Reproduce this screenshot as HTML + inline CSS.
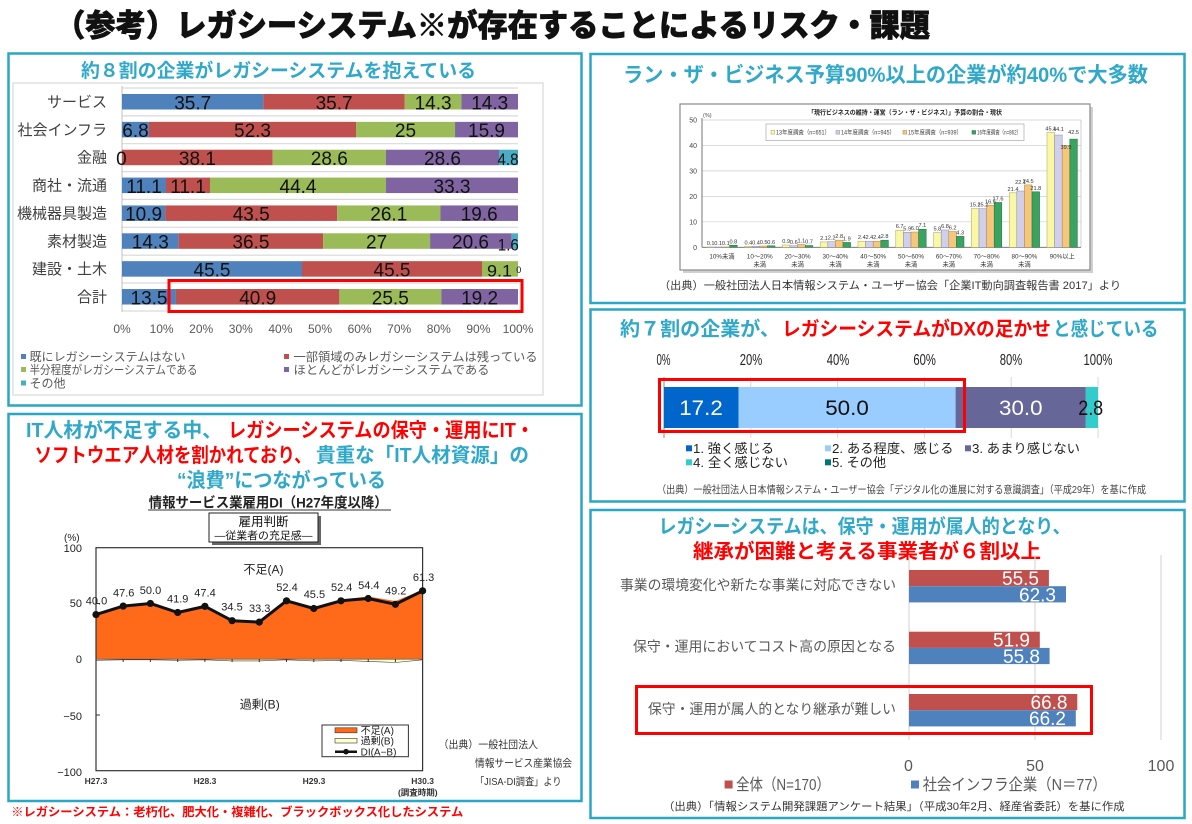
<!DOCTYPE html>
<html><head><meta charset="utf-8"><style>
html,body{margin:0;padding:0;background:#fff;}
svg{display:block;}
text{font-family:"Liberation Sans","Noto Sans CJK JP",sans-serif;}
</style></head><body>
<svg width="1192" height="824" viewBox="0 0 1192 824" xmlns="http://www.w3.org/2000/svg">
<rect width="1192" height="824" fill="#fff"/>
<text x="55" y="36.5" font-size="31" font-weight="900" fill="#111" stroke="#111" stroke-width="0.7" textLength="875" lengthAdjust="spacingAndGlyphs">（参考）レガシーシステム※が存在することによるリスク・課題</text>

<g fill="none" stroke="#2AA6C6" stroke-width="2.5">
<rect x="8.5" y="53.5" width="573" height="352"/>
<rect x="8.5" y="414" width="573" height="387"/>
<rect x="590.5" y="54" width="594" height="249"/>
<rect x="590.5" y="309.5" width="594" height="192"/>
<rect x="590.5" y="510" width="594" height="308"/>
</g>

<!-- ===== Panel 1 ===== -->
<text x="278.5" y="77" text-anchor="middle" font-size="19" font-weight="700" fill="#2FA8C9" textLength="395" lengthAdjust="spacingAndGlyphs">約８割の企業がレガシーシステムを抱えている</text>
<rect x="13" y="83" width="530" height="312" fill="none" stroke="#D9D9D9" stroke-width="1.2"/>
<g stroke="#D9D9D9" stroke-width="1.2">
<line x1="122" y1="88" x2="518" y2="88"/>
<line x1="122" y1="115.9" x2="518" y2="115.9"/>
<line x1="122" y1="143.7" x2="518" y2="143.7"/>
<line x1="122" y1="171.6" x2="518" y2="171.6"/>
<line x1="122" y1="199.4" x2="518" y2="199.4"/>
<line x1="122" y1="227.3" x2="518" y2="227.3"/>
<line x1="122" y1="255.2" x2="518" y2="255.2"/>
<line x1="122" y1="283" x2="518" y2="283"/>
<line x1="122" y1="311" x2="518" y2="311"/>
</g>
<line x1="122" y1="86" x2="122" y2="312" stroke="#BFBFBF" stroke-width="1"/>
<g>
<rect x="122" y="94" width="141.37" height="15.5" fill="#4F81BD"/>
<rect x="263.37" y="94" width="141.37" height="15.5" fill="#C0504D"/>
<rect x="404.74" y="94" width="56.63" height="15.5" fill="#9BBB59"/>
<rect x="461.37" y="94" width="56.63" height="15.5" fill="#8064A2"/>

<rect x="122" y="121.86" width="26.93" height="15.5" fill="#4F81BD"/>
<rect x="148.93" y="121.86" width="207.11" height="15.5" fill="#C0504D"/>
<rect x="356.04" y="121.86" width="99" height="15.5" fill="#9BBB59"/>
<rect x="455.04" y="121.86" width="62.96" height="15.5" fill="#8064A2"/>

<rect x="122" y="149.72" width="150.73" height="15.5" fill="#C0504D"/>
<rect x="272.73" y="149.72" width="113.15" height="15.5" fill="#9BBB59"/>
<rect x="385.88" y="149.72" width="113.15" height="15.5" fill="#8064A2"/>
<rect x="499.03" y="149.72" width="18.97" height="15.5" fill="#4BACC6"/>

<rect x="122" y="177.58" width="44" height="15.5" fill="#4F81BD"/>
<rect x="166" y="177.58" width="44" height="15.5" fill="#C0504D"/>
<rect x="210" y="177.58" width="176" height="15.5" fill="#9BBB59"/>
<rect x="386" y="177.58" width="132" height="15.5" fill="#8064A2"/>

<rect x="122" y="205.44" width="43.12" height="15.5" fill="#4F81BD"/>
<rect x="165.12" y="205.44" width="172.09" height="15.5" fill="#C0504D"/>
<rect x="337.21" y="205.44" width="103.25" height="15.5" fill="#9BBB59"/>
<rect x="440.46" y="205.44" width="77.54" height="15.5" fill="#8064A2"/>

<rect x="122" y="233.3" width="56.63" height="15.5" fill="#4F81BD"/>
<rect x="178.63" y="233.3" width="144.54" height="15.5" fill="#C0504D"/>
<rect x="323.17" y="233.3" width="106.92" height="15.5" fill="#9BBB59"/>
<rect x="430.09" y="233.3" width="81.58" height="15.5" fill="#8064A2"/>
<rect x="511.67" y="233.3" width="6.33" height="15.5" fill="#4BACC6"/>

<rect x="122" y="261.16" width="180" height="15.5" fill="#4F81BD"/>
<rect x="302" y="261.16" width="180" height="15.5" fill="#C0504D"/>
<rect x="482" y="261.16" width="36" height="15.5" fill="#9BBB59"/>

<rect x="122" y="289.02" width="53.94" height="15.5" fill="#4F81BD"/>
<rect x="175.94" y="289.02" width="163.43" height="15.5" fill="#C0504D"/>
<rect x="339.37" y="289.02" width="101.9" height="15.5" fill="#9BBB59"/>
<rect x="441.27" y="289.02" width="76.73" height="15.5" fill="#8064A2"/>
</g>
<g font-size="19" fill="#111" text-anchor="middle" font-family="Liberation Sans, sans-serif">
<text x="192.7" y="109.3">35.7</text><text x="334.1" y="109.3">35.7</text><text x="433.1" y="109.3">14.3</text><text x="489.7" y="109.3">14.3</text>
<text x="135.5" y="137.2">6.8</text><text x="252.5" y="137.2">52.3</text><text x="405.5" y="137.2">25</text><text x="486.5" y="137.2">15.9</text>
<text x="121.4" y="165">0</text><text x="197.4" y="165">38.1</text><text x="329.3" y="165">28.6</text><text x="442.5" y="165">28.6</text>
<text x="144" y="192.9">11.1</text><text x="188" y="192.9">11.1</text><text x="298" y="192.9">44.4</text><text x="452" y="192.9">33.3</text>
<text x="143.6" y="220.7">10.9</text><text x="251.2" y="220.7">43.5</text><text x="388.8" y="220.7">26.1</text><text x="479.2" y="220.7">19.6</text>
<text x="150.3" y="248.6">14.3</text><text x="250.9" y="248.6">36.5</text><text x="376.6" y="248.6">27</text><text x="470.5" y="248.6">20.6</text>
<text x="212" y="276.5">45.5</text><text x="392" y="276.5">45.5</text>
<text x="149" y="304.3">13.5</text><text x="257.7" y="304.3">40.9</text><text x="390.3" y="304.3">25.5</text><text x="479.6" y="304.3">19.2</text>
</g>
<g font-size="17" fill="#111" text-anchor="middle" font-family="Liberation Sans, sans-serif">
<text x="508" y="165" textLength="21" lengthAdjust="spacingAndGlyphs">4.8</text>
<text x="508.3" y="250.5" textLength="21" lengthAdjust="spacingAndGlyphs">1.6</text>
<text x="499.5" y="276.5" textLength="25" lengthAdjust="spacingAndGlyphs">9.1</text>
</g>
<text x="518.8" y="273" font-size="9" text-anchor="middle" fill="#111">0</text>
<g font-size="15" fill="#404040" text-anchor="end">
<text x="107" y="107">サービス</text>
<text x="107" y="134.9">社会インフラ</text>
<text x="107" y="162.7">金融</text>
<text x="107" y="190.6">商社・流通</text>
<text x="107" y="218.4">機械器具製造</text>
<text x="107" y="246.3">素材製造</text>
<text x="107" y="274.2">建設・土木</text>
<text x="107" y="302">合計</text>
</g>
<g font-size="12" fill="#595959" text-anchor="middle">
<text x="122" y="333">0%</text><text x="161.6" y="333">10%</text><text x="201.2" y="333">20%</text><text x="240.8" y="333">30%</text><text x="280.4" y="333">40%</text><text x="320" y="333">50%</text><text x="359.6" y="333">60%</text><text x="399.2" y="333">70%</text><text x="438.8" y="333">80%</text><text x="478.4" y="333">90%</text><text x="518" y="333">100%</text>
</g>
<rect x="21" y="354" width="5" height="5" fill="#4F81BD"/>
<rect x="21" y="367" width="5" height="5" fill="#9BBB59"/>
<rect x="21" y="380.5" width="5" height="5" fill="#4BACC6"/>
<rect x="284" y="354" width="5" height="5" fill="#C0504D"/>
<rect x="284" y="367" width="5" height="5" fill="#8064A2"/>
<g font-size="12" fill="#595959">
<text x="29.5" y="361" textLength="156" lengthAdjust="spacingAndGlyphs">既にレガシーシステムはない</text>
<text x="29.5" y="374" textLength="168" lengthAdjust="spacingAndGlyphs">半分程度がレガシーシステムである</text>
<text x="29.5" y="387.5">その他</text>
<text x="293.5" y="361" textLength="244" lengthAdjust="spacingAndGlyphs">一部領域のみレガシーシステムは残っている</text>
<text x="293.5" y="374" textLength="196" lengthAdjust="spacingAndGlyphs">ほとんどがレガシーシステムである</text>
</g>
<rect x="169" y="280.5" width="353" height="31" fill="none" stroke="#FF0000" stroke-width="3"/>

<!-- ===== Panel 2 ===== -->
<g font-size="20" font-weight="700">
<text x="26" y="437" fill="#2FA8C9" textLength="196" lengthAdjust="spacingAndGlyphs">IT人材が不足する中、</text>
<text x="228" y="437" fill="#FF0000" textLength="306" lengthAdjust="spacingAndGlyphs">レガシーシステムの保守・運用にIT・</text>
<text x="34.6" y="462" fill="#FF0000" textLength="277" lengthAdjust="spacingAndGlyphs">ソフトウエア人材を割かれており、</text>
<text x="316" y="462" fill="#2FA8C9" textLength="213" lengthAdjust="spacingAndGlyphs">貴重な「IT人材資源」の</text>
<text x="177" y="487" fill="#2FA8C9" textLength="209" lengthAdjust="spacingAndGlyphs">“浪費”につながっている</text>
</g>
<text x="148.7" y="507.5" font-size="14" font-weight="700" fill="#222" textLength="239" lengthAdjust="spacingAndGlyphs">情報サービス業雇用DI（H27年度以降）</text>
<line x1="148" y1="510" x2="391" y2="510" stroke="#333" stroke-width="1"/>
<rect x="212" y="516" width="109" height="29" fill="#666"/>
<rect x="209" y="513" width="109" height="29" fill="#fff" stroke="#222" stroke-width="1"/>
<text x="263.5" y="526" font-size="12.5" text-anchor="middle" fill="#111">雇用判断</text>
<text x="263.5" y="539" font-size="10.5" text-anchor="middle" fill="#111" textLength="98" lengthAdjust="spacingAndGlyphs">―従業者の充足感―</text>
<text x="64" y="541" font-size="10" fill="#222">(%)</text>
<g font-size="11" fill="#222" text-anchor="end">
<text x="82" y="552">100</text><text x="82" y="607">50</text><text x="82" y="663">0</text><text x="82" y="720">−50</text><text x="82" y="776">−100</text>
</g>
<polygon points="96,659.2 96,613.6 123.2,605.1 150.4,602.4 177.7,611.5 204.9,605.3 232.1,619.5 259.3,621 286.5,599.8 313.8,607.3 341,599.6 368.2,596.5 395.4,601 422.6,590 422.6,659.2" fill="#FF6A1A"/>
<polygon points="96,659.2 422.6,659.2 422.6,659.8 395.4,662.5 368.2,661.4 341,660.3 313.8,660.9 286.5,659.8 259.3,660.9 232.1,660.9 204.9,659.8 177.7,660.3 150.4,659.8 123.2,659.8 96,660.3" fill="#FFFFCC" stroke="#444" stroke-width="0.6"/>
<rect x="96" y="547.7" width="326.6" height="223" fill="none" stroke="#333" stroke-width="1.2"/>
<g stroke="#333" stroke-width="1">
<line x1="96" y1="603.5" x2="100" y2="603.5"/><line x1="96" y1="715" x2="100" y2="715"/>
<line x1="123.2" y1="659.2" x2="123.2" y2="662"/><line x1="150.4" y1="659.2" x2="150.4" y2="662"/><line x1="177.7" y1="659.2" x2="177.7" y2="662"/><line x1="204.9" y1="659.2" x2="204.9" y2="662"/><line x1="232.1" y1="659.2" x2="232.1" y2="662"/><line x1="259.3" y1="659.2" x2="259.3" y2="662"/><line x1="286.5" y1="659.2" x2="286.5" y2="662"/><line x1="313.8" y1="659.2" x2="313.8" y2="662"/><line x1="341" y1="659.2" x2="341" y2="662"/><line x1="368.2" y1="659.2" x2="368.2" y2="662"/><line x1="395.4" y1="659.2" x2="395.4" y2="662"/>
</g>
<polyline points="96,614.6 123.2,606.1 150.4,603.45 177.7,612.5 204.9,606.35 232.1,620.7 259.3,622.1 286.5,600.8 313.8,608.5 341,600.8 368.2,598.5 395.4,604.3 422.6,590.85" fill="none" stroke="#111" stroke-width="3" stroke-linejoin="round"/>
<g fill="#111">
<circle cx="96" cy="614.6" r="3.6"/><circle cx="123.2" cy="606.1" r="3.6"/><circle cx="150.4" cy="603.45" r="3.6"/><circle cx="177.7" cy="612.5" r="3.6"/><circle cx="204.9" cy="606.35" r="3.6"/><circle cx="232.1" cy="620.7" r="3.6"/><circle cx="259.3" cy="622.1" r="3.6"/><circle cx="286.5" cy="600.8" r="3.6"/><circle cx="313.8" cy="608.5" r="3.6"/><circle cx="341" cy="600.8" r="3.6"/><circle cx="368.2" cy="598.5" r="3.6"/><circle cx="395.4" cy="604.3" r="3.6"/><circle cx="422.6" cy="590.85" r="3.6"/>
</g>
<g font-size="11" fill="#222" text-anchor="middle">
<text x="96.5" y="604.6">40.0</text><text x="123.7" y="596.6">47.6</text><text x="150.5" y="594">50.0</text><text x="177.7" y="602.3">41.9</text><text x="205" y="596.6">47.4</text><text x="232" y="610.6">34.5</text><text x="259.7" y="612.2">33.3</text><text x="287" y="591.2">52.4</text><text x="314.4" y="598.2">45.5</text><text x="341.7" y="591.2">52.4</text><text x="368.8" y="589">54.4</text><text x="395.7" y="594.6">49.2</text><text x="423.6" y="581.2">61.3</text>
</g>
<text x="263.5" y="573.5" font-size="12" text-anchor="middle" fill="#222">不足(A)</text>
<text x="259.7" y="708.5" font-size="12" text-anchor="middle" fill="#222">過剰(B)</text>
<rect x="322" y="725" width="86.4" height="31.7" fill="#fff" stroke="#333" stroke-width="1"/>
<rect x="335" y="727.8" width="22" height="5" fill="#FF6A1A" stroke="#333" stroke-width="0.6"/>
<rect x="335" y="738.4" width="22" height="4.6" fill="#FFFFCC" stroke="#333" stroke-width="0.6"/>
<line x1="335" y1="751.7" x2="357" y2="751.7" stroke="#111" stroke-width="2.5"/>
<circle cx="346" cy="751.7" r="2.8" fill="#111"/>
<g font-size="10" fill="#222">
<text x="360.6" y="734">不足(A)</text><text x="360.6" y="744.5">過剰(B)</text><text x="360.6" y="755.5">DI(A−B)</text>
</g>
<g font-size="8.5" font-weight="700" fill="#333" text-anchor="middle">
<text x="96" y="784">H27.3</text><text x="205" y="784">H28.3</text><text x="314" y="784">H29.3</text><text x="422.6" y="784">H30.3</text>
<text x="417.8" y="795.5">(調査時期)</text>
</g>
<g font-size="10.5" fill="#333">
<text x="438.5" y="748" textLength="99.5" lengthAdjust="spacingAndGlyphs">（出典）一般社団法人</text>
<text x="475" y="766.5" textLength="97" lengthAdjust="spacingAndGlyphs">情報サービス産業協会</text>
<text x="475" y="785" textLength="86.5" lengthAdjust="spacingAndGlyphs">「JISA-DI調査」より</text>
</g>
<text x="11.3" y="816" font-size="12" font-weight="700" fill="#FF0000" textLength="452" lengthAdjust="spacingAndGlyphs">※レガシーシステム：老朽化、肥大化・複雑化、ブラックボックス化したシステム</text>

<!-- ===== Panel 3 ===== -->
<text x="623" y="82" font-size="21" font-weight="700" fill="#2FA8C9" textLength="525" lengthAdjust="spacingAndGlyphs">ラン・ザ・ビジネス予算90%以上の企業が約40%で大多数</text>
<rect x="683" y="107" width="410" height="166" fill="#d0d0d0"/>
<rect x="680" y="104" width="410" height="166" fill="#fff" stroke="#8a8a8a" stroke-width="1.2"/>
<text x="905" y="114.5" font-size="6.5" font-weight="700" fill="#222" text-anchor="middle" textLength="194" lengthAdjust="spacingAndGlyphs">「現行ビジネスの維持・運営（ラン・ザ・ビジネス）」予算の割合・現状</text>
<g stroke="#cfcfcf" stroke-width="0.7">
<line x1="702" y1="120" x2="1081" y2="120"/><line x1="702" y1="145.5" x2="1081" y2="145.5"/><line x1="702" y1="170.9" x2="1081" y2="170.9"/><line x1="702" y1="196.4" x2="1081" y2="196.4"/><line x1="702" y1="221.8" x2="1081" y2="221.8"/>
</g>
<line x1="1081" y1="120" x2="1081" y2="247.3" stroke="#bbb" stroke-width="0.7"/>
<line x1="702" y1="118" x2="702" y2="247.3" stroke="#666" stroke-width="0.9"/>
<line x1="702" y1="247.3" x2="1081" y2="247.3" stroke="#666" stroke-width="0.9"/>
<g font-size="7" fill="#444" text-anchor="end">
<text x="697" y="122.5">50</text><text x="697" y="148">40</text><text x="697" y="173.4">30</text><text x="697" y="198.9">20</text><text x="697" y="224.3">10</text><text x="697" y="249.8">0</text>
</g>
<text x="703" y="117" font-size="5.5" fill="#444">(%)</text>
<rect x="766" y="124" width="258" height="16.5" fill="#fff" stroke="#aaa" stroke-width="0.7"/>
<rect x="771" y="130.5" width="3.6" height="3.6" fill="#FAF7A5" stroke="#A8A060" stroke-width="0.5"/>
<rect x="836" y="130.5" width="3.6" height="3.6" fill="#D0D0EC" stroke="#8888B0" stroke-width="0.5"/>
<rect x="903" y="130.5" width="3.6" height="3.6" fill="#F6C77A" stroke="#B08040" stroke-width="0.5"/>
<rect x="972" y="130.5" width="3.6" height="3.6" fill="#3AA35F" stroke="#1E7040" stroke-width="0.5"/>
<g font-size="6" fill="#444">
<text x="776" y="134.5" textLength="54" lengthAdjust="spacingAndGlyphs">13年度調査（n=651）</text>
<text x="841" y="134.5" textLength="54" lengthAdjust="spacingAndGlyphs">14年度調査（n=945）</text>
<text x="908" y="134.5" textLength="54" lengthAdjust="spacingAndGlyphs">15年度調査（n=939）</text>
<text x="977" y="134.5" textLength="44" lengthAdjust="spacingAndGlyphs">16年度調査（n=862）</text>
</g>
<g stroke-width="0.5">
<g fill="#FAF7A5" stroke="#A8A060">
<rect x="706.8" y="247.05" width="7.6" height="0.25"/><rect x="744.6" y="246.28" width="7.6" height="1.02"/><rect x="782.4" y="245.01" width="7.6" height="2.29"/><rect x="820.2" y="241.95" width="7.6" height="5.35"/><rect x="858" y="241.19" width="7.6" height="6.11"/><rect x="895.8" y="230.24" width="7.6" height="17.06"/><rect x="933.6" y="232.53" width="7.6" height="14.77"/><rect x="971.4" y="208.6" width="7.6" height="38.7"/><rect x="1009.2" y="192.82" width="7.6" height="54.48"/><rect x="1047" y="132.48" width="7.6" height="114.82"/>
</g>
<g fill="#D0D0EC" stroke="#8888B0">
<rect x="714.4" y="247.05" width="7.6" height="0.25"/><rect x="752.2" y="246.28" width="7.6" height="1.02"/><rect x="790" y="245.77" width="7.6" height="1.53"/><rect x="827.8" y="241.7" width="7.6" height="5.6"/><rect x="865.6" y="241.19" width="7.6" height="6.11"/><rect x="903.4" y="232.28" width="7.6" height="15.02"/><rect x="941.2" y="229.99" width="7.6" height="17.31"/><rect x="979" y="208.6" width="7.6" height="38.7"/><rect x="1016.8" y="191.03" width="7.6" height="56.27"/><rect x="1054.6" y="135.02" width="7.6" height="112.28"/>
</g>
<g fill="#F6C77A" stroke="#B08040">
<rect x="722" y="247.05" width="7.6" height="0.25"/><rect x="759.8" y="246.03" width="7.6" height="1.27"/><rect x="797.6" y="244.5" width="7.6" height="2.8"/><rect x="835.4" y="240.17" width="7.6" height="7.13"/><rect x="873.2" y="241.19" width="7.6" height="6.11"/><rect x="911" y="232.02" width="7.6" height="15.28"/><rect x="948.8" y="231.51" width="7.6" height="15.79"/><rect x="986.6" y="205.29" width="7.6" height="42.01"/><rect x="1024.4" y="184.92" width="7.6" height="62.38"/><rect x="1062.2" y="145.71" width="7.6" height="101.59"/>
</g>
<g fill="#3AA35F" stroke="#1E7040">
<rect x="729.6" y="245.26" width="7.6" height="2.04"/><rect x="767.4" y="245.77" width="7.6" height="1.53"/><rect x="805.2" y="245.52" width="7.6" height="1.78"/><rect x="843" y="242.46" width="7.6" height="4.84"/><rect x="880.8" y="240.17" width="7.6" height="7.13"/><rect x="918.6" y="229.22" width="7.6" height="18.08"/><rect x="956.4" y="236.35" width="7.6" height="10.95"/><rect x="994.2" y="202.49" width="7.6" height="44.81"/><rect x="1032" y="191.8" width="7.6" height="55.5"/><rect x="1069.8" y="139.09" width="7.6" height="108.21"/>
</g>
</g>
<g font-size="5.6" fill="#333" text-anchor="middle">
<text x="710.6" y="245">0.1</text><text x="718.2" y="245">0.1</text><text x="725.8" y="245">0.1</text><text x="733.4" y="243.3">0.8</text>
<text x="748.4" y="244.3">0.4</text><text x="756" y="244.3">0.4</text><text x="763.6" y="244">0.5</text><text x="771.2" y="243.8">0.6</text>
<text x="786.2" y="243">0.9</text><text x="793.8" y="243.8">0.6</text><text x="801.4" y="242.5">1.1</text><text x="809" y="243.5">0.7</text>
<text x="824" y="240">2.1</text><text x="831.6" y="239.7">2.2</text><text x="839.2" y="238.2">2.8</text><text x="846.8" y="240.5">1.9</text>
<text x="861.8" y="239.2">2.4</text><text x="869.4" y="239.2">2.4</text><text x="877" y="239.2">2.4</text><text x="884.6" y="238.2">2.8</text>
<text x="899.6" y="228.2">6.7</text><text x="907.2" y="230.3">5.9</text><text x="914.8" y="230">6.0</text><text x="922.4" y="227.2">7.1</text>
<text x="937.4" y="230.5">5.8</text><text x="945" y="228">6.8</text><text x="952.6" y="229.5">6.2</text><text x="960.2" y="234.3">4.3</text>
<text x="975.2" y="206.6">15.2</text><text x="982.8" y="206.6">15.2</text><text x="990.4" y="203.3">16.5</text><text x="998" y="200.5">17.6</text>
<text x="1013" y="190.8">21.4</text><text x="1020.6" y="184">22.1</text><text x="1028.2" y="182.9">24.5</text><text x="1035.8" y="189.8">21.8</text>
<text x="1050.8" y="130.5">45.1</text><text x="1058.4" y="131">44.1</text><text x="1066" y="149">39.9</text><text x="1073.6" y="134">42.5</text>
</g>
<g font-size="6.3" fill="#333" text-anchor="middle">
<text x="722" y="258.5">10%未満</text><text x="759.8" y="258.5">10～20%</text><text x="797.6" y="258.5">20～30%</text><text x="835.4" y="258.5">30～40%</text><text x="873.2" y="258.5">40～50%</text><text x="911" y="258.5">50～60%</text><text x="948.8" y="258.5">60～70%</text><text x="986.6" y="258.5">70～80%</text><text x="1024.4" y="258.5">80～90%</text><text x="1062.2" y="258.5">90%以上</text>
<text x="759.8" y="266.5">未満</text><text x="797.6" y="266.5">未満</text><text x="835.4" y="266.5">未満</text><text x="873.2" y="266.5">未満</text><text x="911" y="266.5">未満</text><text x="948.8" y="266.5">未満</text><text x="986.6" y="266.5">未満</text><text x="1024.4" y="266.5">未満</text>
</g>
<text x="659" y="289" font-size="11" fill="#333" textLength="462" lengthAdjust="spacingAndGlyphs">（出典）一般社団法人日本情報システム・ユーザー協会「企業IT動向調査報告書 2017」より</text>

<!-- ===== Panel 4 ===== -->
<g font-size="19.5" font-weight="700">
<text x="620" y="335.5" fill="#2FA8C9" textLength="160" lengthAdjust="spacingAndGlyphs">約７割の企業が、</text>
<text x="782" y="335.5" fill="#FF0000" textLength="269" lengthAdjust="spacingAndGlyphs">レガシーシステムがDXの足かせ</text>
<text x="1053" y="335.5" fill="#2FA8C9" textLength="105.5" lengthAdjust="spacingAndGlyphs">と感じている</text>
</g>
<g font-size="16" fill="#222" text-anchor="middle">
<text x="663.5" y="365" textLength="14" lengthAdjust="spacingAndGlyphs">0%</text>
<text x="751" y="365" textLength="22.5" lengthAdjust="spacingAndGlyphs">20%</text>
<text x="838" y="365" textLength="22.5" lengthAdjust="spacingAndGlyphs">40%</text>
<text x="924.6" y="365" textLength="22.5" lengthAdjust="spacingAndGlyphs">60%</text>
<text x="1011" y="365" textLength="22.5" lengthAdjust="spacingAndGlyphs">80%</text>
<text x="1098" y="365" textLength="29" lengthAdjust="spacingAndGlyphs">100%</text>
</g>
<g stroke="#D9D9D9" stroke-width="1">
<line x1="750.8" y1="377" x2="750.8" y2="438"/><line x1="837.6" y1="377" x2="837.6" y2="438"/><line x1="924.4" y1="377" x2="924.4" y2="438"/><line x1="1011.2" y1="377" x2="1011.2" y2="438"/><line x1="1098" y1="377" x2="1098" y2="438"/>
</g>
<line x1="664" y1="377" x2="664" y2="438" stroke="#888" stroke-width="1"/>
<rect x="664" y="387" width="74.6" height="41" fill="#0066CC"/>
<rect x="738.6" y="387" width="217" height="41" fill="#99CCFF"/>
<rect x="955.6" y="387" width="130.2" height="41" fill="#666699"/>
<rect x="1085.8" y="387" width="12.2" height="41" fill="#33CCCC"/>
<g font-size="21" text-anchor="middle">
<text x="701" y="415" fill="#fff" textLength="43.5" lengthAdjust="spacingAndGlyphs">17.2</text>
<text x="847" y="415" fill="#111" textLength="43.5" lengthAdjust="spacingAndGlyphs">50.0</text>
<text x="1020.8" y="415" fill="#fff" textLength="43.5" lengthAdjust="spacingAndGlyphs">30.0</text>
<text x="1090.7" y="415" fill="#111" textLength="25" lengthAdjust="spacingAndGlyphs">2.8</text>
</g>
<rect x="659.5" y="379.5" width="305" height="52" fill="none" stroke="#FF0000" stroke-width="3"/>
<rect x="686" y="445.3" width="6" height="6" fill="#0066CC"/>
<rect x="825" y="445.3" width="6" height="6" fill="#99CCFF"/>
<rect x="965" y="445.3" width="6" height="6" fill="#666699"/>
<rect x="686" y="459.3" width="6" height="6" fill="#33CCCC"/>
<rect x="825" y="459.3" width="6" height="6" fill="#007777"/>
<g font-size="13" fill="#222">
<text x="693" y="453" textLength="81" lengthAdjust="spacingAndGlyphs">1. 強く感じる</text>
<text x="832" y="453" textLength="121.5" lengthAdjust="spacingAndGlyphs">2. ある程度、感じる</text>
<text x="972" y="453" textLength="108" lengthAdjust="spacingAndGlyphs">3. あまり感じない</text>
<text x="693" y="467" textLength="95" lengthAdjust="spacingAndGlyphs">4. 全く感じない</text>
<text x="832" y="467" textLength="54" lengthAdjust="spacingAndGlyphs">5. その他</text>
</g>
<text x="657" y="493" font-size="10.5" fill="#444" textLength="489" lengthAdjust="spacingAndGlyphs">（出典）一般社団法人日本情報システム・ユーザー協会「デジタル化の進展に対する意識調査」（平成29年）を基に作成</text>

<!-- ===== Panel 5 ===== -->
<text x="658.5" y="533" font-size="19.5" font-weight="700" fill="#2FA8C9" textLength="412" lengthAdjust="spacingAndGlyphs">レガシーシステムは、保守・運用が属人的となり、</text>
<text x="693" y="558" font-size="20" font-weight="700" fill="#FF0000" textLength="348" lengthAdjust="spacingAndGlyphs">継承が困難と考える事業者が６割以上</text>
<g stroke="#D9D9D9" stroke-width="1.2">
<line x1="909" y1="555" x2="909" y2="740"/><line x1="1035" y1="555" x2="1035" y2="740"/><line x1="1161" y1="555" x2="1161" y2="740"/>
</g>
<rect x="909" y="570" width="139.9" height="16.2" fill="#C0504D"/>
<rect x="909" y="586.2" width="157" height="16.2" fill="#4F81BD"/>
<rect x="909" y="631.7" width="130.8" height="16.2" fill="#C0504D"/>
<rect x="909" y="647.9" width="140.6" height="16.2" fill="#4F81BD"/>
<rect x="909" y="694" width="168.3" height="16.2" fill="#C0504D"/>
<rect x="909" y="710.2" width="166.8" height="16.2" fill="#4F81BD"/>
<g font-size="19" fill="#fff" text-anchor="end">
<text x="1039" y="585">55.5</text>
<text x="1056" y="601.7">62.3</text>
<text x="1030" y="646.7">51.9</text>
<text x="1040" y="663">55.8</text>
<text x="1067.5" y="709">66.8</text>
<text x="1066" y="725.2">66.2</text>
</g>
<g font-size="14" fill="#595959" text-anchor="end">
<text x="896" y="590" textLength="276" lengthAdjust="spacingAndGlyphs">事業の環境変化や新たな事業に対応できない</text>
<text x="896" y="651.7" textLength="263" lengthAdjust="spacingAndGlyphs">保守・運用においてコスト高の原因となる</text>
<text x="896" y="714" textLength="248" lengthAdjust="spacingAndGlyphs">保守・運用が属人的となり継承が難しい</text>
</g>
<rect x="636.5" y="686.5" width="455" height="47" fill="none" stroke="#FF0000" stroke-width="3"/>
<g font-size="16" fill="#595959" text-anchor="middle">
<text x="908.5" y="771">0</text><text x="1035" y="771">50</text><text x="1161" y="771">100</text>
</g>
<rect x="724.6" y="780.5" width="8" height="8" fill="#C0504D"/>
<rect x="911" y="780.5" width="8" height="8" fill="#4F81BD"/>
<g font-size="16" fill="#595959">
<text x="736" y="790" textLength="94" lengthAdjust="spacingAndGlyphs">全体（N=170）</text>
<text x="922.7" y="790" textLength="184" lengthAdjust="spacingAndGlyphs">社会インフラ企業（N＝77）</text>
</g>
<text x="663" y="810" font-size="11" fill="#333" textLength="461.6" lengthAdjust="spacingAndGlyphs">（出典）「情報システム開発課題アンケート結果」（平成30年2月、経産省委託）を基に作成</text>
</svg>
</body></html>
